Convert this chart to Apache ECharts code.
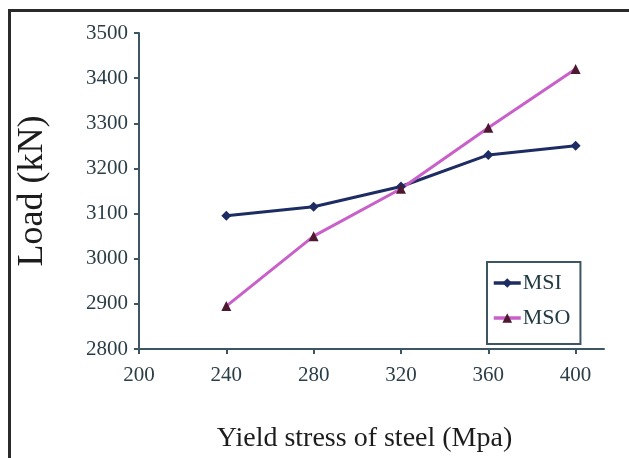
<!DOCTYPE html>
<html>
<head>
<meta charset="utf-8">
<script src="https://cdn.jsdelivr.net/npm/echarts@6/dist/echarts.min.js"></script>
<style>html,body{margin:0;padding:0;background:#fff;}#c{width:629px;height:458px;}</style>
</head>
<body>
<div id="c"></div>
<script>
var xValues = [240, 280, 320, 360, 400];
var msiValues = [3095, 3115, 3160, 3230, 3250];
var msoValues = [2895, 3050, 3155, 3290, 3420];
var xTicks = [200, 240, 280, 320, 360, 400];

function pairs(xs, ys) { return xs.map(function (x, i) { return [x, ys[i]]; }); }

var FONT = 'Liberation Serif';
var AXIS = '#3d5663';
var chart = echarts.init(document.getElementById('c'));
chart.setOption({
  animation: false,
  backgroundColor: '#fff',
  graphic: [{
    type: 'rect', left: 7, top: 8, shape: { width: 700, height: 600 },
    style: { fill: 'none', stroke: '#2a2a2a', lineWidth: 3 }, silent: true, z: -1
  }],
  grid: { left: 139, right: 25, top: 33, bottom: 107, containLabel: false },
  legend: {
    orient: 'vertical', left: 487, top: 262,
    borderColor: AXIS, borderWidth: 2, padding: [10, 10, 15, 5],
    itemWidth: 27, itemHeight: 12, itemGap: 13,
    lineStyle: { width: 3.5 },
    textStyle: { fontFamily: FONT, fontSize: 22, color: '#223a44', padding: [0, 0, 0, -3] },
    data: ['MSI', 'MSO']
  },
  xAxis: {
    type: 'value', min: 200, max: 413,
    name: 'Yield stress of steel (Mpa)', nameLocation: 'middle', nameGap: 76,
    nameTextStyle: { fontFamily: FONT, fontSize: 28, color: '#1c1c1c', padding: [0, 14, 0, 0] },
    axisLine: { lineStyle: { color: AXIS, width: 2 } },
    axisTick: { show: true, length: 5, customValues: xTicks, lineStyle: { color: AXIS, width: 2 } },
    axisLabel: { customValues: xTicks, margin: 16, fontFamily: FONT, fontSize: 21, color: '#2b3d46' },
    splitLine: { show: false }
  },
  yAxis: {
    type: 'value', min: 2800, max: 3500, interval: 100,
    name: 'Load (kN)', nameLocation: 'middle', nameGap: 88, nameRotate: 90,
    nameTextStyle: { fontFamily: FONT, fontSize: 36, color: '#1c1c1c' },
    axisLine: { show: true, lineStyle: { color: AXIS, width: 2 } },
    axisTick: { show: true, length: 5, lineStyle: { color: AXIS, width: 2 } },
    axisLabel: { margin: 11, fontFamily: FONT, fontSize: 21, color: '#2b3d46',
      formatter: function (v) { return String(v); } },
    splitLine: { show: false }
  },
  series: [{
    name: 'MSI', type: 'line', data: pairs(xValues, msiValues),
    symbol: 'diamond', symbolSize: 10,
    lineStyle: { color: '#1d2d63', width: 3 },
    itemStyle: { color: '#1d2d63' }
  }, {
    name: 'MSO', type: 'line', data: pairs(xValues, msoValues),
    symbol: 'triangle', symbolSize: 10,
    lineStyle: { color: '#c95fc9', width: 3 },
    itemStyle: { color: '#4e1830' }
  }]
});
</script>
</body>
</html>
